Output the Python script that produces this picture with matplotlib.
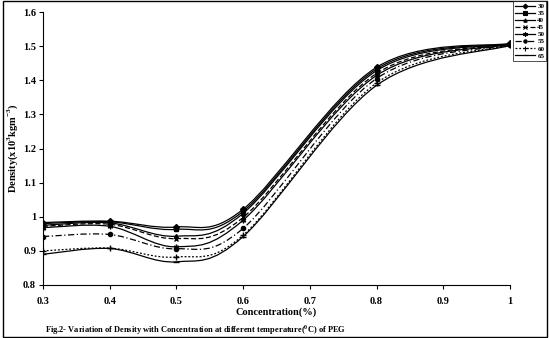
import numpy as np
import matplotlib.pyplot as plt
from matplotlib.path import Path
from matplotlib.patches import PathPatch, Rectangle
from matplotlib.lines import Line2D

plt.rcParams['font.family'] = 'Liberation Serif'
plt.rcParams['font.weight'] = 'bold'
plt.rcParams['mathtext.fontset'] = 'custom'
plt.rcParams['mathtext.rm'] = 'Liberation Serif:bold'
plt.rcParams['mathtext.bf'] = 'Liberation Serif:bold'

# concentration (%)
conc = [0.3, 0.4, 0.5, 0.6, 0.8, 1.0]

# density at each temperature
temps = ['30', '35', '40', '45', '50', '55', '60', '65']
d30 = [0.983, 0.987, 0.970, 1.022, 1.438, 1.508]
d35 = [0.980, 0.985, 0.963, 1.016, 1.433, 1.507]
d40 = [0.975, 0.982, 0.943, 1.010, 1.428, 1.506]
d45 = [0.972, 0.978, 0.936, 0.998, 1.420, 1.505]
d50 = [0.968, 0.972, 0.912, 0.990, 1.414, 1.505]
d55 = [0.942, 0.948, 0.906, 0.966, 1.405, 1.504]
d60 = [0.900, 0.908, 0.882, 0.946, 1.392, 1.503]
d65 = [0.890, 0.907, 0.868, 0.942, 1.385, 1.502]
dens = [d30, d35, d40, d45, d50, d55, d60, d65]

markers = ['D', 's', '^', 'x', (6, 2, 0), 'o', '+', '_']
styles = ['-', '-', '-', (0, (4, 2)), '-', (0, (5, 2, 1, 2)), (0, (1.5, 1.5)), '-']
msizes = [3, 3, 3, 3.5, 4, 3, 4.5, 4]


def smooth_path(x, y):
    # excel style smoothed line (bezier through the points)
    pts = np.column_stack([x, y])
    n = len(pts)
    verts = [pts[0]]
    codes = [Path.MOVETO]
    for i in range(n - 1):
        p0 = pts[i - 1] if i > 0 else pts[i]
        p1 = pts[i]
        p2 = pts[i + 1]
        p3 = pts[i + 2] if i + 2 < n else pts[i + 1]
        c1 = p1 + (p2 - p0) / 6
        c2 = p2 - (p3 - p1) / 6
        verts += [c1, c2, p2]
        codes += [Path.CURVE4] * 3
    return Path(verts, codes)


fig = plt.figure(figsize=(5.49, 3.38), dpi=100)
ax = fig.add_axes([43 / 549, 1 - 285 / 338, 467 / 549, 273 / 338])

handles = []
for t, d, m, ls, ms in zip(temps, dens, markers, styles, msizes):
    ax.add_patch(PathPatch(smooth_path(conc, d), fill=False, ec='black',
                           lw=0.9, ls=ls))
    ax.plot(conc, d, ls='none', marker=m, ms=ms, color='black', mew=1)
    handles.append(Line2D([], [], color='black', lw=0.9, ls=ls, marker=m,
                          ms=ms * 0.8, mew=0.8))

ax.set_xlim(0.3, 1.0)
ax.set_ylim(0.8, 1.6)
ax.set_xticks([0.3, 0.4, 0.5, 0.6, 0.7, 0.8, 0.9, 1.0])
ax.set_xticklabels(['0.3', '0.4', '0.5', '0.6', '0.7', '0.8', '0.9', '1'])
ax.set_yticks([0.8, 0.9, 1.0, 1.1, 1.2, 1.3, 1.4, 1.5, 1.6])
ax.set_yticklabels(['0.8', '0.9', '1', '1.1', '1.2', '1.3', '1.4', '1.5', '1.6'])
ax.tick_params(labelsize=7.5, length=3, width=0.8, direction='out')
ax.tick_params(axis='x', pad=6)
ax.tick_params(axis='y', pad=2)
for s in ['top', 'right']:
    ax.spines[s].set_visible(False)
for s in ['left', 'bottom']:
    ax.spines[s].set_linewidth(0.8)

ax.set_xlabel('Concentration(%)', fontsize=7.5, fontweight='bold', labelpad=1)
ax.set_ylabel('Density(x10$^3$kgm$^{-3}$)', fontsize=7.5, fontweight='bold')
ax.yaxis.set_label_coords(-23 / 467, 0.5)

fig.text(45 / 549, 1 - 330 / 338,
         'Fig.2- Variation of Density with Concentration at different temperature($^0$C) of PEG',
         fontsize=6, fontweight='bold', va='center', ha='left')

leg = fig.legend(handles, temps, loc='upper left',
                 bbox_to_anchor=(513 / 549, 1 - 1 / 338), fontsize=5,
                 frameon=True, fancybox=False, edgecolor='black',
                 handlelength=2.9, handletextpad=0.3, labelspacing=0.18,
                 borderpad=0.3, borderaxespad=0)
leg.get_frame().set_linewidth(0.6)

fig.patches.append(Rectangle((3 / 549, 0.002), 0.99, 0.994,
                             transform=fig.transFigure, fill=False,
                             ec='black', lw=1))

fig.savefig('out.png', dpi=100)
